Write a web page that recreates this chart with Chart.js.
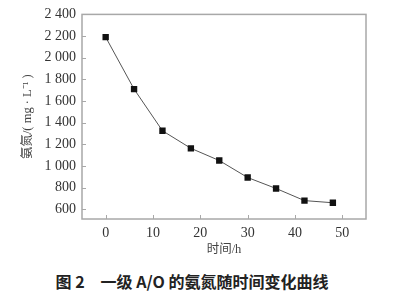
<!DOCTYPE html>
<html>
<head>
<meta charset="utf-8">
<script src="https://cdn.jsdelivr.net/npm/chart.js@4"></script>
<style>
  html, body { margin: 0; padding: 0; background: #fff; }
  #wrap { position: relative; width: 398px; height: 295px; }
  #chartBox { position: absolute; left: 0; top: 0; width: 398px; height: 262px; }
  #caption {
    position: absolute; left: 0; top: 269px; width: 384px; text-align: center;
    font: bold 16px "Noto Sans CJK SC", "Noto Sans", sans-serif; color: #222;
    white-space: pre;
  }
</style>
</head>
<body>
<div id="wrap">
  <div id="chartBox"><canvas id="myChart" width="398" height="262"></canvas></div>
  <div id="caption">图 2　一级 A/O 的氨氮随时间变化曲线</div>
</div>
<script>
var hours = [0, 6, 12, 18, 24, 30, 36, 42, 48];
var ammonia = [2190, 1710, 1325, 1163, 1050, 893, 792, 680, 660];
var xTickValues = [0, 10, 20, 30, 40, 50];
var yTickValues = [600, 800, 1000, 1200, 1400, 1600, 1800, 2000, 2200, 2400];

var axisColor = '#a8a8a8';
var serifFont = '"Liberation Serif", "Noto Sans CJK SC", serif';

function fmtThousands(v) {
  return String(v).replace(/\B(?=(\d{3})+(?!\d))/g, ' ');
}

// box round the plot and tick marks pointing inwards
var frameAndTicks = {
  id: 'frameAndTicks',
  afterDraw: function (chart) {
    var ctx = chart.ctx;
    var a = chart.chartArea;
    var xs = chart.scales.x;
    var ys = chart.scales.y;
    ctx.save();
    ctx.strokeStyle = axisColor;
    ctx.lineWidth = 1.5;
    ctx.strokeRect(a.left, a.top, a.right - a.left, a.bottom - a.top);
    ctx.lineWidth = 1;
    ctx.beginPath();
    xTickValues.forEach(function (v) {
      var px = Math.round(xs.getPixelForValue(v)) + 0.5;
      ctx.moveTo(px, a.bottom);
      ctx.lineTo(px, a.bottom - 4);
    });
    yTickValues.forEach(function (v) {
      var py = Math.round(ys.getPixelForValue(v)) + 0.5;
      ctx.moveTo(a.left, py);
      ctx.lineTo(a.left + 4, py);
    });
    ctx.stroke();
    ctx.restore();
  },
};

new Chart('myChart', {
  type: 'line',
  data: {
    datasets: [
      {
        data: hours.map(function (h, i) { return { x: h, y: ammonia[i] }; }),
        borderColor: '#555',
        borderWidth: 1,
        pointStyle: 'rect',
        pointRadius: 4.5,
        pointBackgroundColor: '#111',
        pointBorderColor: '#111',
        pointBorderWidth: 0,
        tension: 0,
      },
    ],
  },
  options: {
    responsive: false,
    animation: false,
    layout: { padding: { top: 12, right: 32, left: 0, bottom: 0 } },
    plugins: { legend: { display: false }, tooltip: { enabled: false } },
    scales: {
      x: {
        type: 'linear',
        min: -5,
        max: 55,
        afterBuildTicks: function (scale) {
          scale.ticks = xTickValues.map(function (v) { return { value: v }; });
        },
        afterFit: function (scale) { scale.height = 262 - 219; },
        grid: { display: false, drawTicks: false },
        border: { display: false },
        ticks: {
          padding: 6,
          color: '#333',
          font: { family: serifFont, size: 14 },
        },
        title: {
          display: true,
          text: '时间/h',
          color: '#444',
          padding: { top: 0, bottom: 5 },
          font: { family: serifFont, size: 12.5 },
        },
      },
      y: {
        min: 510,
        max: 2400,
        afterBuildTicks: function (scale) {
          scale.ticks = yTickValues.map(function (v) { return { value: v }; });
        },
        afterFit: function (scale) { scale.width = 82; },
        grid: { display: false, drawTicks: false },
        border: { display: false },
        ticks: {
          padding: 6,
          color: '#333',
          font: { family: serifFont, size: 14 },
          callback: function (v) { return fmtThousands(v); },
        },
        title: {
          display: true,
          text: '氨氮/( mg · L⁻¹ )',
          color: '#444',
          padding: { top: 20, bottom: 0 },
          font: { family: serifFont, size: 12.5 },
        },
      },
    },
  },
  plugins: [frameAndTicks],
});
</script>
</body>
</html>
